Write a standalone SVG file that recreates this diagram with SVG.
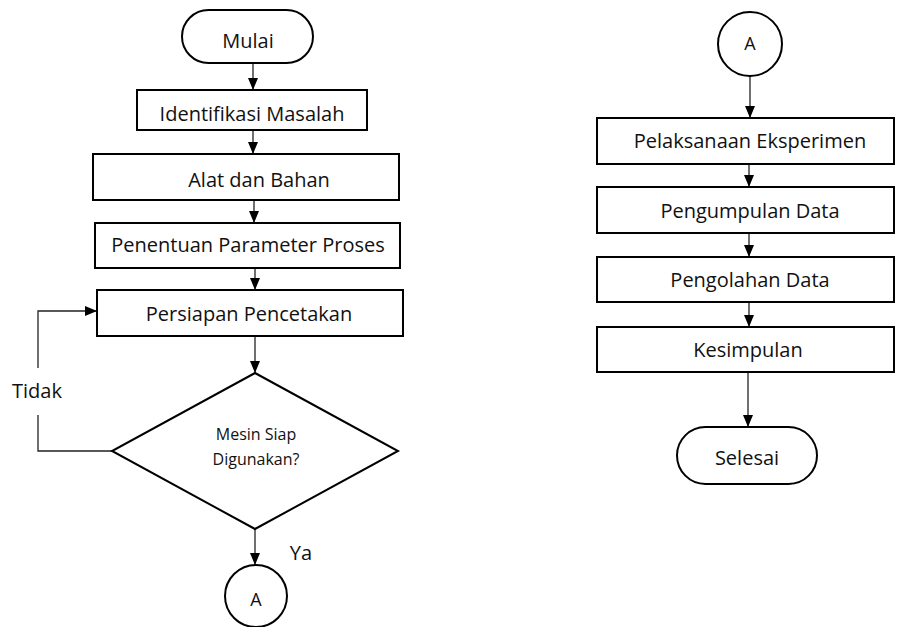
<svg xmlns="http://www.w3.org/2000/svg" width="897" height="627" viewBox="0 0 897 627">
<style>
.box{fill:#fff;stroke:#000;stroke-width:2}
.con{fill:none;stroke:#222;stroke-width:1.3}
.t{font-family:"Open Sans","Liberation Sans",sans-serif;font-size:20px;fill:#111;text-anchor:middle}
.s{font-size:16px}
.a{font-size:18px}
</style>
<defs>
<marker id="arr" viewBox="0 0 12 10" markerWidth="12" markerHeight="10" refX="12" refY="5" orient="auto" markerUnits="userSpaceOnUse">
<path d="M0,0 L12,5 L0,10 z" fill="#000"/>
</marker>
</defs>
<rect width="897" height="627" fill="#fff"/>
<g id="connectors">
<line class="con" x1="253" y1="63" x2="253" y2="90" marker-end="url(#arr)"/>
<line class="con" x1="253" y1="130" x2="253" y2="154" marker-end="url(#arr)"/>
<line class="con" x1="254" y1="200" x2="254" y2="223" marker-end="url(#arr)"/>
<line class="con" x1="255" y1="268" x2="255" y2="290" marker-end="url(#arr)"/>
<line class="con" x1="255" y1="336" x2="255" y2="373" marker-end="url(#arr)"/>
<line class="con" x1="255" y1="529" x2="255" y2="565" marker-end="url(#arr)"/>
<path class="con" d="M112,451 H38 V415"/>
<path class="con" d="M38,368 V311 H97" marker-end="url(#arr)"/>
<line class="con" x1="750" y1="76" x2="750" y2="118" marker-end="url(#arr)"/>
<line class="con" x1="749" y1="164" x2="749" y2="187" marker-end="url(#arr)"/>
<line class="con" x1="749" y1="233" x2="749" y2="257" marker-end="url(#arr)"/>
<line class="con" x1="749" y1="302" x2="749" y2="327" marker-end="url(#arr)"/>
<line class="con" x1="748" y1="372" x2="748" y2="427" marker-end="url(#arr)"/>
<text class="t" x="37" y="398">Tidak</text>
<text class="t" x="301" y="560">Ya</text>
</g>
<g id="mulai"><rect class="box" x="182" y="10" width="131" height="53" rx="26.5"/><text class="t" x="248" y="48">Mulai</text></g>
<g id="identifikasi"><rect class="box" x="137" y="90" width="230" height="40"/><text class="t" x="252" y="121">Identifikasi Masalah</text></g>
<g id="alat"><rect class="box" x="93" y="154" width="306" height="46"/><text class="t" x="259" y="187">Alat dan Bahan</text></g>
<g id="penentuan"><rect class="box" x="95" y="223" width="305" height="45"/><text class="t" x="248" y="252">Penentuan Parameter Proses</text></g>
<g id="persiapan"><rect class="box" x="97" y="290" width="306" height="46"/><text class="t" x="249" y="321">Persiapan Pencetakan</text></g>
<g id="mesin"><polygon class="box" points="255,373 398,451 255,529 112,451"/><text class="t s" x="256" y="440">Mesin Siap</text><text class="t s" x="256" y="465">Digunakan?</text></g>
<g id="konektorA1"><circle class="box" cx="256" cy="596" r="31"/><text class="t a" x="256" y="606">A</text></g>
<g id="konektorA2"><circle class="box" cx="750" cy="44" r="32"/><text class="t a" x="750" y="50">A</text></g>
<g id="pelaksanaan"><rect class="box" x="597" y="118" width="297" height="46"/><text class="t" x="750" y="148">Pelaksanaan Eksperimen</text></g>
<g id="pengumpulan"><rect class="box" x="597" y="187" width="297" height="46"/><text class="t" x="750" y="218">Pengumpulan Data</text></g>
<g id="pengolahan"><rect class="box" x="597" y="257" width="297" height="45"/><text class="t" x="750" y="287">Pengolahan Data</text></g>
<g id="kesimpulan"><rect class="box" x="597" y="327" width="297" height="45"/><text class="t" x="748" y="357">Kesimpulan</text></g>
<g id="selesai"><rect class="box" x="677" y="427" width="140" height="57" rx="28.5"/><text class="t" x="747" y="465">Selesai</text></g>
</svg>
